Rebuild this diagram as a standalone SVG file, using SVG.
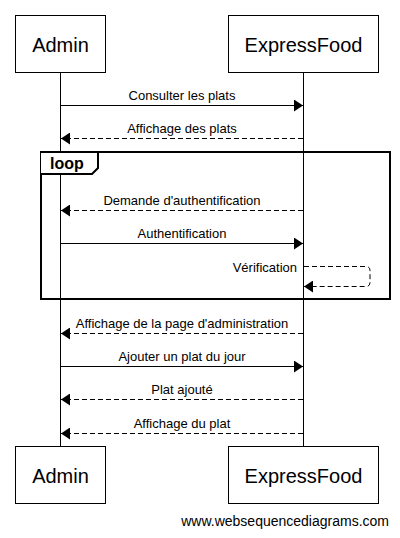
<svg xmlns="http://www.w3.org/2000/svg" width="400" height="538" viewBox="0 0 400 538">
<style>
.box{fill:#fff;stroke:#000;stroke-width:1}
.pt{font-family:"Liberation Sans",Arial,sans-serif;font-size:20px;fill:#000;text-anchor:middle}
.mt{font-family:"Liberation Sans",Arial,sans-serif;font-size:13px;fill:#000;text-anchor:middle}
.life{stroke:#000;stroke-width:1}
.sol{stroke:#000;stroke-width:1;fill:none}
.dash{stroke:#000;stroke-width:1;fill:none;stroke-dasharray:5,3}
</style>
<defs>
<marker id="ah" markerWidth="10" markerHeight="12" refX="9" refY="6" orient="auto" markerUnits="userSpaceOnUse">
<path d="M0,0 L9,6 L0,12 Z" fill="#000"/>
</marker>
</defs>
<rect width="400" height="538" fill="#fff"/>
<g id="lifelines">
<line class="life" x1="60.5" y1="72" x2="60.5" y2="446"/>
<line class="life" x1="303.5" y1="72" x2="303.5" y2="446"/>
</g>
<g id="loop-frame">
<rect x="41" y="152" width="349" height="147" fill="none" stroke="#000" stroke-width="2"/>
<path d="M41,152 L98,152 L98,168 L92,174 L41,174" fill="#fff" stroke="#000" stroke-width="2"/>
<text x="50" y="169" font-family="'Liberation Sans',Arial,sans-serif" font-size="16" font-weight="bold">loop</text>
</g>
<g id="connectors">
<line class="sol" x1="61" y1="105.5" x2="303" y2="105.5" marker-end="url(#ah)"/>
<text class="mt" x="182" y="100">Consulter les plats</text>
<line class="dash" x1="303" y1="138.5" x2="61" y2="138.5" marker-end="url(#ah)"/>
<text class="mt" x="182" y="133">Affichage des plats</text>
<line class="dash" x1="303" y1="210.5" x2="61" y2="210.5" marker-end="url(#ah)"/>
<text class="mt" x="182" y="205">Demande d'authentification</text>
<line class="sol" x1="61" y1="243.5" x2="303" y2="243.5" marker-end="url(#ah)"/>
<text class="mt" x="182" y="238">Authentification</text>
<path class="dash" d="M304,266.5 L366,266.5 Q370,266.5 370,270.5 L370,282.5 Q370,286.5 366,286.5 L304,286.5" marker-end="url(#ah)"/>
<text class="mt" x="297" y="272" style="text-anchor:end">Vérification</text>
<line class="dash" x1="303" y1="333.5" x2="61" y2="333.5" marker-end="url(#ah)"/>
<text class="mt" x="182" y="328">Affichage de la page d'administration</text>
<line class="sol" x1="61" y1="366.5" x2="303" y2="366.5" marker-end="url(#ah)"/>
<text class="mt" x="182" y="361">Ajouter un plat du jour</text>
<line class="dash" x1="303" y1="399.5" x2="61" y2="399.5" marker-end="url(#ah)"/>
<text class="mt" x="182" y="394">Plat ajouté</text>
<line class="dash" x1="303" y1="433.5" x2="61" y2="433.5" marker-end="url(#ah)"/>
<text class="mt" x="182" y="428">Affichage du plat</text>
</g>
<g id="admin-top">
<rect class="box" x="15.5" y="15.5" width="90" height="57"/>
<text class="pt" x="60.5" y="52">Admin</text>
</g>
<g id="expressfood-top">
<rect class="box" x="228.5" y="15.5" width="150" height="57"/>
<text class="pt" x="303.5" y="52">ExpressFood</text>
</g>
<g id="admin-bottom">
<rect class="box" x="15.5" y="446.5" width="90" height="57"/>
<text class="pt" x="60.5" y="483">Admin</text>
</g>
<g id="expressfood-bottom">
<rect class="box" x="228.5" y="446.5" width="150" height="57"/>
<text class="pt" x="303.5" y="483">ExpressFood</text>
</g>
<text x="389" y="526" font-family="'Liberation Sans',Arial,sans-serif" font-size="14" text-anchor="end">www.websequencediagrams.com</text>
</svg>
